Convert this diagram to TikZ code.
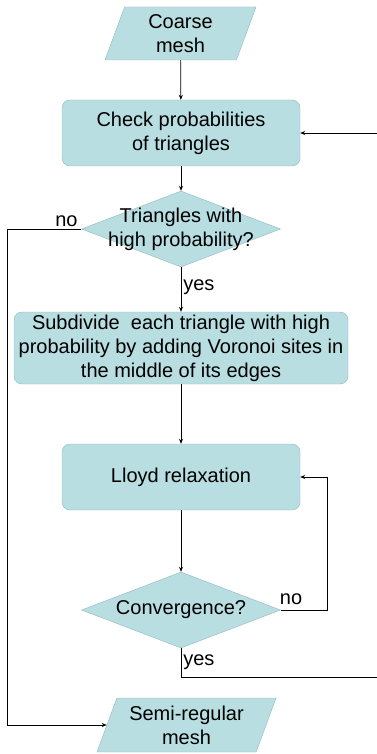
\documentclass[tikz,border=0pt]{standalone}
\usepackage{fontspec}
\setmainfont{Liberation Sans}
\usetikzlibrary{shapes.geometric,arrows.meta}
\definecolor{boxfill}{RGB}{184,222,225}
\definecolor{boxline}{RGB}{145,185,190}
\tikzset{
  every node/.style={font=\fontsize{20}{24}\selectfont},
  io/.style={trapezium,trapezium left angle=64,trapezium right angle=116,
    trapezium stretches body,draw=boxline,fill=boxfill,align=center,
    inner xsep=0pt,inner ysep=1pt},
  process/.style={rectangle,rounded corners=8pt,draw=boxline,fill=boxfill,
    align=center,inner sep=0pt},
  decision/.style={diamond,draw=boxline,fill=boxfill,inner sep=0pt},
  flow/.style={line width=0.7pt,-{Stealth[length=5pt,width=4pt]}},
  plain/.style={line width=0.7pt}
}
\begin{document}
\begin{tikzpicture}[x=1pt,y=-1pt]
  \useasboundingbox (0,0) rectangle (377,754);
  % shapes
  \node[io,minimum width=151pt,minimum height=53pt] (coarse) at (180.5,33.5) {Coarse\\mesh};
  \node[process,minimum width=238pt,minimum height=66pt] (check) at (181,133)
    {Check probabilities\\of triangles};
  \node[decision,minimum width=199pt,minimum height=76pt,
    label=center:{\parbox{8cm}{\centering Triangles with\\high probability?}}] (tri) at (181,229) {};
  \node[process,minimum width=334pt,minimum height=72pt] (subdiv) at (181,348)
    {Subdivide\ \ each triangle with high\\probability by adding Voronoi sites in\\the middle of its edges};
  \node[process,minimum width=238pt,minimum height=66pt] (lloyd) at (181,477) {Lloyd relaxation};
  \node[decision,minimum width=199pt,minimum height=76pt,
    label=center:{Convergence?}] (conv) at (181,610) {};
  \node[io,minimum width=179pt,minimum height=54pt] (semi) at (186.5,725) {Semi-regular\\mesh};
  \coordinate (entry) at (377,133);
  \coordinate (exit) at (377,677);

  % connectors
  \draw[flow] (coarse) -- (check);
  \draw[flow] (entry) -- (check.east);
  \draw[flow] (check) -- (tri.north);
  \draw[flow] (tri.south) -- node[right,pos=0.45,inner sep=2pt] {yes} (subdiv);
  \draw[flow] (tri.west) -- node[above,pos=0.2,inner sep=2pt] {no} ++(-74,0) |- (semi.west);
  \draw[flow] (subdiv) -- (lloyd);
  \draw[flow] (lloyd) -- (conv.north);
  \draw[flow] (conv.east) -- node[above,pos=0.22,inner sep=5pt] {no} ++(47,0) |- (lloyd.east);
  \draw[plain] (conv.south) -- node[right,pos=0.5,inner sep=2pt] {yes} (conv.south |- exit) -- (exit);
\end{tikzpicture}
\end{document}
